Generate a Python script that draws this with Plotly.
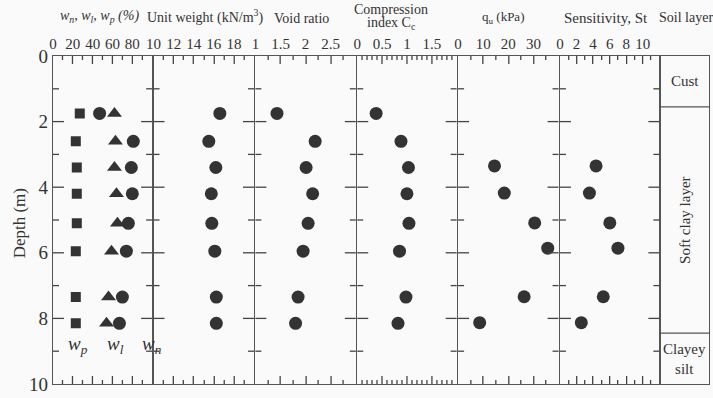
import numpy as np
import plotly.graph_objects as go

# ---- soil profile data ----
depth = [1.75, 2.6, 3.4, 4.2, 5.1, 5.95, 7.35, 8.15]
w_p = [27, 23, 24, 24, 24, 23, 23, 23]
w_l = [62, 63, 62, 64, 65, 59, 56, 54]
w_n = [47, 81, 79, 80, 76, 74, 70, 67]
unit_weight = [16.6, 15.5, 16.2, 15.75, 15.8, 16.1, 16.25, 16.25]
void_ratio = [1.43, 2.19, 2.01, 2.14, 2.05, 1.95, 1.85, 1.80]
comp_index = [0.38, 0.88, 1.03, 1.00, 1.04, 0.85, 0.98, 0.82]

depth_q = [3.35, 4.18, 5.09, 5.86, 7.34, 8.13]
q_u = [14.5, 18.4, 30.5, 35.7, 26.3, 8.6]
sensitivity = [4.36, 3.56, 6.02, 7.0, 5.23, 2.58]

# soil layers: (name, top, bottom)
layers = [("Cust", 0.0, 1.55), ("Soft clay layer", 1.55, 8.45), ("Clayey<br>silt", 8.45, 10.0)]

FONT = "Liberation Serif"
INK = "#333333"
LINE = "#555555"
TICK = "#444444"
LW = 1.4

W, H = 713, 398
L, R, T, B = 53, 3, 56, 12
PW = W - L - R
edges_px = [53, 153, 255, 357, 458, 560, 661, 710]
# neighbouring panels share one border line
dom = []
for i in range(7):
    a = edges_px[i] + (LW / 2 if i > 0 else 0)
    b = edges_px[i + 1] - (LW / 2 if i < 6 else 0)
    dom.append(((a - L) / PW, (b - L) / PW))

# axis settings: range, labelled values, major tick step, minor tick step
panels = [
    dict(rng=[0, 100], tv=[0, 20, 40, 60, 80], major=20, minor=10),
    dict(rng=[10, 20], tv=[10, 12, 14, 16, 18], major=2, minor=1),
    dict(rng=[1, 3], tv=[1, 1.5, 2, 2.5], major=0.5, minor=0.25),
    dict(rng=[0, 2], tv=[0, 0.5, 1, 1.5], major=0.5, minor=0.1),
    dict(rng=[0, 40], tv=[0, 10, 20, 30], major=10, minor=5),
    dict(rng=[0, 12], tv=[0, 2, 4, 6, 8, 10], major=2, minor=1),
    None,
]
DEPTH_RANGE = [10, 0]
DEPTH_MAJOR, DEPTH_MINOR = 2, 1

fig = go.Figure()

def ax_names(idx):
    return ("x" if idx == 1 else f"x{idx}", "y" if idx == 1 else f"y{idx}")

def add(xvals, yvals, idx, symbol, size):
    xa, ya = ax_names(idx)
    fig.add_trace(go.Scatter(
        x=xvals, y=yvals, mode="markers", xaxis=xa, yaxis=ya,
        marker=dict(symbol=symbol, size=size, color=INK, line=dict(width=0)),
        showlegend=False, hoverinfo="skip"))

add(w_p, depth, 1, "square", 10)
add(w_n, depth, 1, "circle", 13)
add(w_l, depth, 1, "triangle-up", 13)
add(unit_weight, depth, 2, "circle", 13)
add(void_ratio, depth, 3, "circle", 13)
add(comp_index, depth, 4, "circle", 13)
add(q_u, depth_q, 5, "circle", 13)
add(sensitivity, depth_q, 6, "circle", 13)
# invisible point so the soil-layer axes are drawn
add([0.5], [5], 7, "circle", 1)
fig.data[-1].marker.opacity = 0

layout = dict(
    width=W, height=H,
    margin=dict(l=L, r=R, t=T, b=B),
    paper_bgcolor="#fafafa", plot_bgcolor="#fafafa",
    font=dict(family=FONT, color=INK),
    showlegend=False,
)

for i in range(7):
    n = i + 1
    xa, ya = ax_names(n)
    xk, yk = xa.replace("x", "xaxis"), ya.replace("y", "yaxis")
    p = panels[i]
    if p is not None:
        layout[xk] = dict(
            domain=list(dom[i]), anchor=ya, range=p["rng"], side="top",
            tickmode="array", tickvals=p["tv"], ticktext=[f"{v:g}" for v in p["tv"]],
            ticks="", showline=True, linecolor=LINE, linewidth=LW, mirror=True,
            showgrid=False, zeroline=False,
            tickfont=dict(family=FONT, size=15, color=INK),
        )
        layout[yk] = dict(
            domain=[0, 1], anchor=xa, range=DEPTH_RANGE,
            tickmode="array", tickvals=[0, 2, 4, 6, 8, 10],
            ticks="", showline=True, linecolor=LINE, linewidth=LW, mirror=True,
            showgrid=False, zeroline=False,
            showticklabels=(n == 1),
            tickfont=dict(family=FONT, size=19, color=INK),
        )
    else:
        layout[xk] = dict(domain=list(dom[i]), anchor=ya, range=[0, 1],
                          showticklabels=False, ticks="", showline=True,
                          linecolor=LINE, linewidth=LW, mirror=True,
                          showgrid=False, zeroline=False)
        layout[yk] = dict(domain=[0, 1], anchor=xa, range=DEPTH_RANGE,
                          showticklabels=False, ticks="", showline=True,
                          linecolor=LINE, linewidth=LW, mirror=True,
                          showgrid=False, zeroline=False)

fig.update_layout(**layout)

# inward tick marks on all four sides of each property panel
def steps(lo, hi, step):
    k = np.arange(round((hi - lo) / step) + 1)
    return [float(round(lo + j * step, 6)) for j in k][1:-1]

def is_major(v, lo, step):
    q = (v - lo) / step
    return abs(q - round(q)) < 1e-6

shapes = []
tick_line = dict(color=TICK, width=1.3)
for i, p in enumerate(panels):
    if p is None:
        continue
    xa, ya = ax_names(i + 1)
    lo, hi = p["rng"]
    d0, d1 = dom[i]
    for v in steps(lo, hi, p["minor"]):
        ln = 8 if is_major(v, lo, p["major"]) else 4
        # snap the tick to a pixel centre so the thin line stays crisp
        pix = L + (d0 + (v - lo) / (hi - lo) * (d1 - d0)) * PW
        pix = np.floor(pix) + 0.5
        px = float((pix - L) / PW)
        for anchor, sgn in ((1, -1), (0, 1)):
            shapes.append(dict(type="line", xref="paper", yref="paper",
                               ysizemode="pixel", yanchor=anchor,
                               x0=px, x1=px, y0=0, y1=sgn * ln, line=tick_line))
    dlo, dhi = min(DEPTH_RANGE), max(DEPTH_RANGE)
    for d in steps(dlo, dhi, DEPTH_MINOR):
        ln = 11 if is_major(d, dlo, DEPTH_MAJOR) else 6
        for anchor, sgn in ((0, 1), (1, -1)):
            shapes.append(dict(type="line", xref=f"{xa} domain", yref=ya,
                               xsizemode="pixel", xanchor=anchor,
                               x0=0, x1=sgn * ln, y0=d, y1=d, line=tick_line))

# soil layer boundaries
for name, top, bot in layers:
    if top > 0:
        shapes.append(dict(type="line", xref="x7 domain", yref="y7", x0=0, x1=1,
                           y0=top, y1=top, line=dict(color=LINE, width=LW)))
fig.update_layout(shapes=shapes)

for name, top, bot in layers:
    fig.add_annotation(
        xref="x7 domain", yref="y7", x=0.5, y=(top + bot) / 2, text=name,
        showarrow=False, textangle=-90 if name.startswith("Soft") else 0,
        font=dict(family=FONT, size=15, color=INK))

# panel titles
def title(xpx, ypx, text, size=14):
    fig.add_annotation(xref="paper", yref="paper",
                       x=(xpx - L) / PW, y=1 + (T - ypx) / (H - T - B),
                       text=text, showarrow=False, xanchor="center", yanchor="middle",
                       font=dict(family=FONT, size=size, color=INK))

title(100, 16, "<i>w<sub>n</sub>, w<sub>l</sub>, w<sub>p</sub> (%)</i>")
title(205, 16, "Unit weight (kN/m<sup>3</sup>)")
title(302, 18, "Void ratio")
title(392, 9, "Compression")
title(392, 23, "index C<sub>c</sub>")
title(504, 17, "q<sub>u</sub> (kPa)", 13)
title(607, 18, "Sensitivity, St", 15)
title(687, 17, "Soil layer", 14)

# depth axis label
fig.add_annotation(xref="paper", yref="paper", x=(19 - L) / PW, y=0.49,
                   xanchor="center", yanchor="middle",
                   text="Depth (m)", textangle=-90, showarrow=False,
                   font=dict(family=FONT, size=17, color=INK))

# series labels in the water content panel
for txt, xv in [("w<sub>p</sub>", 25), ("w<sub>l</sub>", 63), ("w<sub>n</sub>", 100)]:
    fig.add_annotation(xref="x", yref="y", x=xv, y=8.8, text=f"<i>{txt}</i>",
                       showarrow=False, font=dict(family=FONT, size=19, color=INK))

fig.write_html("out.html")
